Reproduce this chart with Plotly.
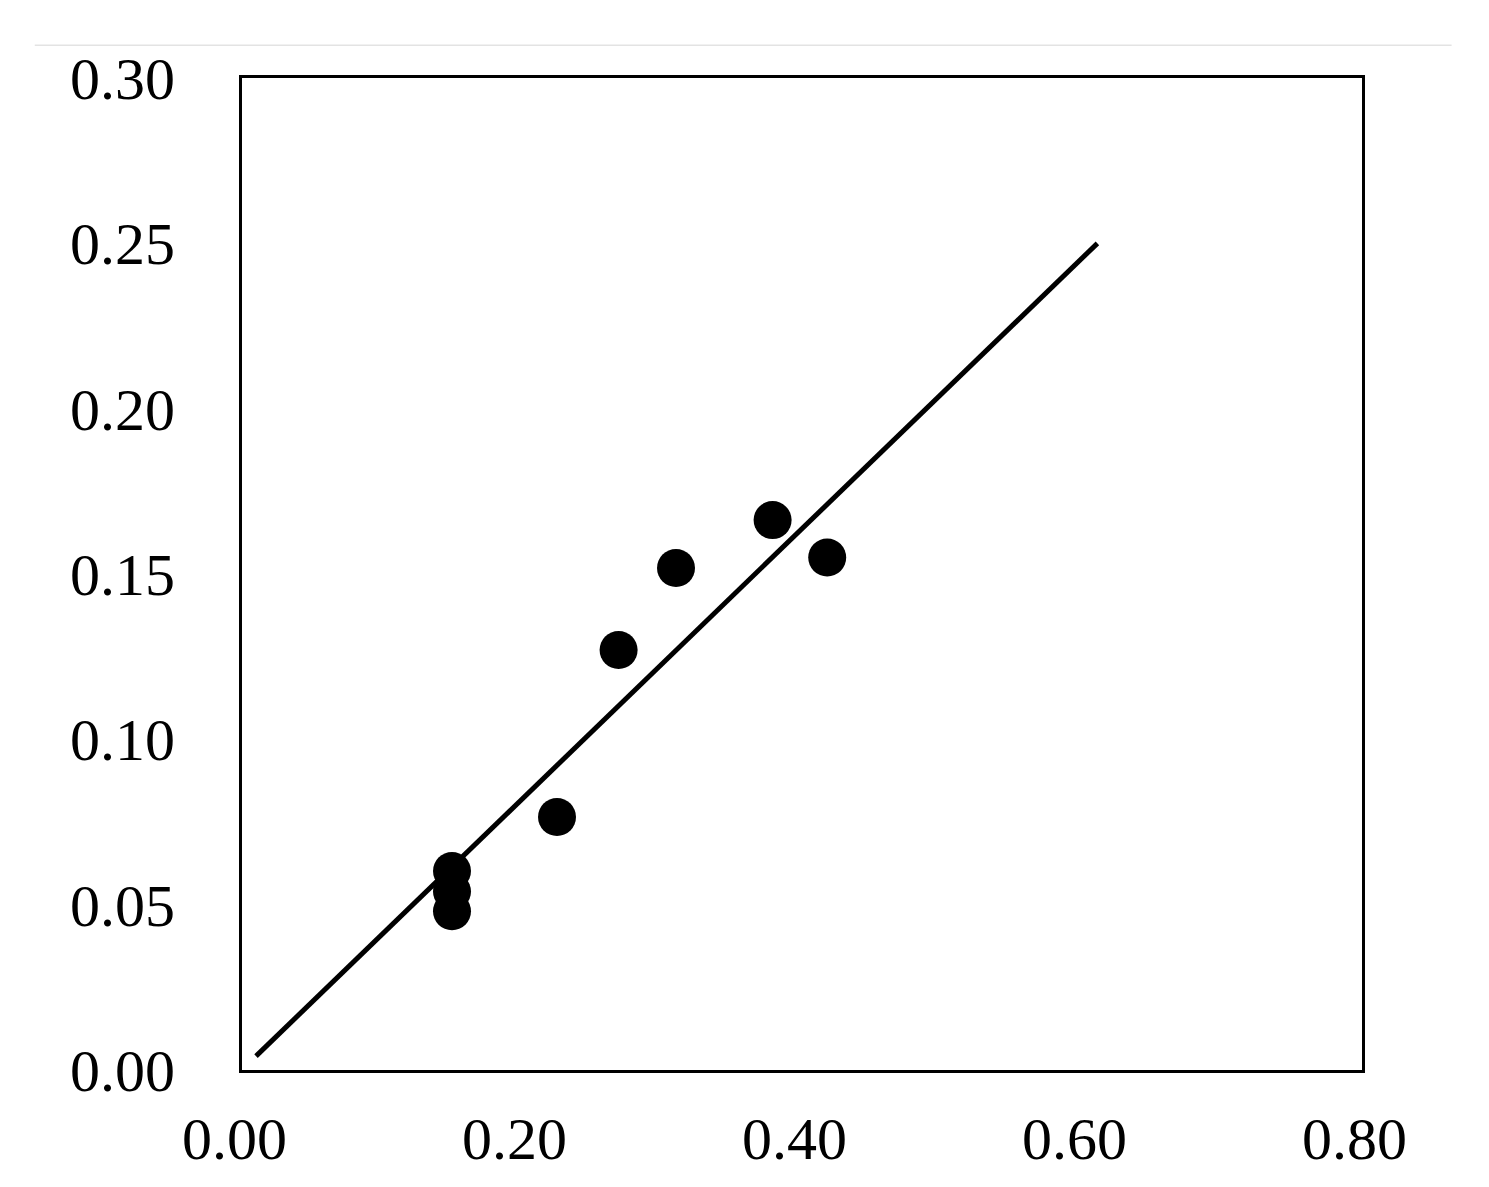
import plotly.graph_objects as go

# measured points
x_vals = [0.150, 0.150, 0.150, 0.225, 0.269, 0.310, 0.379, 0.418]
y_vals = [0.0602, 0.0540, 0.0480, 0.0765, 0.1270, 0.1518, 0.1663, 0.1550]

# fitted line endpoints
fit_x = [0.010, 0.611]
fit_y = [0.0042, 0.2500]

x_ticks = [0.0, 0.2, 0.4, 0.6, 0.8]
y_ticks = [0.0, 0.05, 0.10, 0.15, 0.20, 0.25, 0.30]

fig = go.Figure()
fig.add_trace(go.Scatter(
    x=fit_x, y=fit_y, mode='lines',
    line=dict(color='black', width=5),
    showlegend=False,
))
fig.add_trace(go.Scatter(
    x=x_vals, y=y_vals, mode='markers',
    marker=dict(color='black', size=38),
    showlegend=False,
))

tick_font = dict(family='Liberation Serif, Times New Roman, serif', size=60, color='black')

fig.update_xaxes(
    range=[0, 0.8], tickvals=x_ticks,
    ticktext=[f'{v:.2f}\u00a0' for v in x_ticks],  # nbsp nudges labels left a bit
    showgrid=False, zeroline=False, showline=True, mirror=True,
    linecolor='black', linewidth=3, ticks='', ticklabelstandoff=14,
    tickfont=tick_font,
)
fig.update_yaxes(
    range=[0, 0.3], tickvals=y_ticks, ticktext=[f'{v:.2f}' for v in y_ticks],
    showgrid=False, zeroline=False, showline=True, mirror=True,
    linecolor='black', linewidth=3, ticks='', ticklabelstandoff=52,
    tickfont=tick_font,
)

# thin grey rule across the top
fig.add_shape(type='line', xref='paper', yref='paper',
              x0=-0.185, x1=1.08, y0=1.033, y1=1.033,
              line=dict(color='#e3e3e3', width=1.5))

fig.update_layout(
    width=1489, height=1187,
    margin=dict(l=234, r=135, t=70, b=125),
    plot_bgcolor='white', paper_bgcolor='white',
)

fig.write_html("out.html")
